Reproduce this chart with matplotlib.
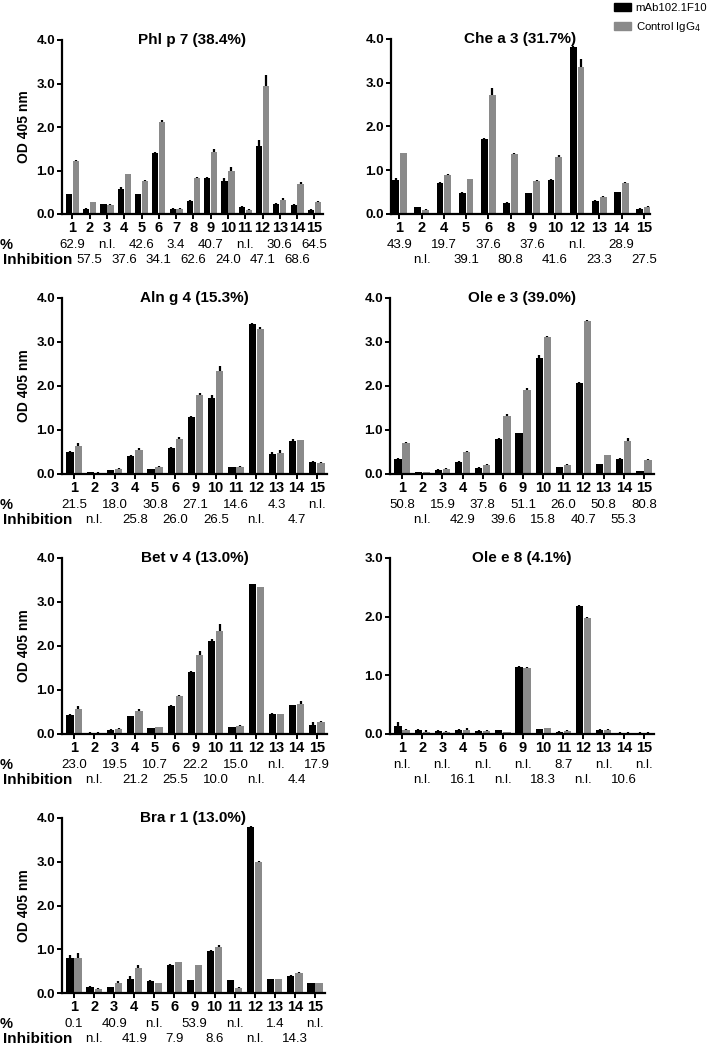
import matplotlib
matplotlib.use("Agg")
import matplotlib.pyplot as plt
from matplotlib.patches import Patch

plt.rcParams['font.family'] = ['Liberation Sans', 'DejaVu Sans']

# ---- data ----
phl_cats = ["1", "2", "3", "4", "5", "6", "7", "8", "9", "10", "11", "12", "13", "14", "15"]
phl_mab = [0.45, 0.12, 0.22, 0.57, 0.45, 1.40, 0.12, 0.31, 0.83, 0.75, 0.16, 1.57, 0.23, 0.21, 0.10]
phl_ctl = [1.22, 0.27, 0.21, 0.91, 0.77, 2.12, 0.11, 0.83, 1.42, 0.98, 0.09, 2.95, 0.32, 0.68, 0.27]
phl_mab_err = [0.02, 0.01, 0.01, 0.04, 0.02, 0.02, 0.01, 0.02, 0.01, 0.08, 0.02, 0.13, 0.02, 0.02, 0.01]
phl_ctl_err = [0.03, 0.01, 0.01, 0.02, 0.02, 0.03, 0.03, 0.02, 0.08, 0.10, 0.02, 0.25, 0.04, 0.05, 0.02]
phl_pct1 = ["62.9", "n.l.", "42.6", "3.4", "40.7", "n.l.", "30.6", "64.5"]
phl_pct2 = ["57.5", "37.6", "34.1", "62.6", "24.0", "47.1", "68.6"]

che_cats = ["1", "2", "4", "5", "6", "8", "9", "10", "12", "13", "14", "15"]
che_mab = [0.78, 0.15, 0.71, 0.48, 1.71, 0.26, 0.47, 0.77, 3.82, 0.29, 0.50, 0.12]
che_ctl = [1.39, 0.10, 0.88, 0.79, 2.73, 1.37, 0.76, 1.31, 3.35, 0.38, 0.70, 0.17]
che_mab_err = [0.05, 0.02, 0.02, 0.02, 0.02, 0.01, 0.01, 0.03, 0.02, 0.02, 0.01, 0.01]
che_ctl_err = [0.01, 0.01, 0.04, 0.02, 0.15, 0.02, 0.02, 0.03, 0.20, 0.04, 0.03, 0.02]
che_pct1 = ["43.9", "19.7", "37.6", "37.6", "n.l.", "28.9"]
che_pct2 = ["n.l.", "39.1", "80.8", "41.6", "23.3", "27.5"]

cats13 = ["1", "2", "3", "4", "5", "6", "9", "10", "11", "12", "13", "14", "15"]

aln_mab = [0.50, 0.04, 0.09, 0.41, 0.11, 0.58, 1.30, 1.73, 0.15, 3.41, 0.46, 0.74, 0.28]
aln_ctl = [0.63, 0.03, 0.11, 0.54, 0.16, 0.79, 1.79, 2.35, 0.17, 3.29, 0.48, 0.77, 0.26]
aln_mab_err = [0.02, 0.01, 0.01, 0.02, 0.01, 0.03, 0.02, 0.06, 0.01, 0.02, 0.03, 0.05, 0.02]
aln_ctl_err = [0.08, 0.01, 0.02, 0.05, 0.02, 0.04, 0.06, 0.10, 0.02, 0.06, 0.06, 0.01, 0.02]
aln_pct1 = ["21.5", "18.0", "30.8", "27.1", "14.6", "4.3", "n.l."]
aln_pct2 = ["n.l.", "25.8", "26.0", "26.5", "n.l.", "4.7"]

ole3_mab = [0.34, 0.04, 0.10, 0.28, 0.14, 0.80, 0.93, 2.63, 0.16, 2.06, 0.22, 0.35, 0.06]
ole3_ctl = [0.70, 0.04, 0.12, 0.49, 0.21, 1.32, 1.92, 3.12, 0.21, 3.48, 0.43, 0.76, 0.32]
ole3_mab_err = [0.02, 0.01, 0.01, 0.01, 0.01, 0.01, 0.01, 0.08, 0.01, 0.02, 0.01, 0.02, 0.01]
ole3_ctl_err = [0.03, 0.01, 0.02, 0.04, 0.02, 0.05, 0.03, 0.02, 0.02, 0.03, 0.01, 0.05, 0.03]
ole3_pct1 = ["50.8", "15.9", "37.8", "51.1", "26.0", "50.8", "80.8"]
ole3_pct2 = ["n.l.", "42.9", "39.6", "15.8", "40.7", "55.3"]

bet_mab = [0.44, 0.03, 0.10, 0.41, 0.13, 0.64, 1.41, 2.11, 0.15, 3.41, 0.46, 0.65, 0.21]
bet_ctl = [0.57, 0.03, 0.12, 0.52, 0.15, 0.86, 1.80, 2.35, 0.18, 3.33, 0.45, 0.69, 0.27]
bet_mab_err = [0.01, 0.01, 0.01, 0.01, 0.01, 0.01, 0.03, 0.06, 0.01, 0.01, 0.01, 0.02, 0.07]
bet_ctl_err = [0.06, 0.01, 0.02, 0.04, 0.02, 0.02, 0.08, 0.15, 0.02, 0.02, 0.01, 0.07, 0.03]
bet_pct1 = ["23.0", "19.5", "10.7", "22.2", "15.0", "n.l.", "17.9"]
bet_pct2 = ["n.l.", "21.2", "25.5", "10.0", "n.l.", "4.4"]

ole8_mab = [0.14, 0.07, 0.05, 0.06, 0.05, 0.06, 1.15, 0.08, 0.04, 2.18, 0.07, 0.02, 0.02]
ole8_ctl = [0.06, 0.04, 0.04, 0.06, 0.05, 0.03, 1.12, 0.10, 0.05, 1.97, 0.07, 0.02, 0.02]
ole8_mab_err = [0.06, 0.02, 0.01, 0.02, 0.01, 0.01, 0.01, 0.01, 0.01, 0.02, 0.01, 0.01, 0.01]
ole8_ctl_err = [0.02, 0.02, 0.01, 0.04, 0.01, 0.01, 0.02, 0.01, 0.01, 0.02, 0.02, 0.01, 0.01]
ole8_pct1 = ["n.l.", "n.l.", "n.l.", "n.l.", "8.7", "n.l.", "n.l."]
ole8_pct2 = ["n.l.", "16.1", "n.l.", "18.3", "n.l.", "10.6"]

bra_mab = [0.80, 0.14, 0.13, 0.33, 0.28, 0.65, 0.29, 0.97, 0.29, 3.80, 0.31, 0.40, 0.23]
bra_ctl = [0.80, 0.10, 0.23, 0.58, 0.22, 0.70, 0.63, 1.06, 0.12, 3.00, 0.31, 0.46, 0.22]
bra_mab_err = [0.07, 0.03, 0.01, 0.06, 0.01, 0.02, 0.01, 0.01, 0.01, 0.01, 0.01, 0.02, 0.01]
bra_ctl_err = [0.12, 0.02, 0.04, 0.07, 0.01, 0.02, 0.02, 0.03, 0.01, 0.02, 0.02, 0.02, 0.02]
bra_pct1 = ["0.1", "40.9", "n.l.", "53.9", "n.l.", "1.4", "n.l."]
bra_pct2 = ["n.l.", "41.9", "7.9", "8.6", "n.l.", "14.3"]

BLACK = "#000000"
GRAY = "#8a8a8a"

W, H = 709, 1046
fig = plt.figure(figsize=(W / 100, H / 100), dpi=100)


def panel(box, title, cats, mab, ctl, mab_err, ctl_err, pct1, pct2, ymax, left_col):
    l, t, r, b = box
    ax = fig.add_axes([l / W, 1 - b / H, (r - l) / W, (b - t) / H])
    n = len(cats)
    x = list(range(n))
    bw = 0.36 if n > 12 else 0.31
    off = bw / 2 + 0.02
    xm = [i - off for i in x]
    xc = [i + off for i in x]
    ax.bar(xm, mab, width=bw, color=BLACK, zorder=2)
    ax.bar(xc, ctl, width=bw, color=GRAY, zorder=2)
    ax.errorbar(xm, mab, yerr=[[0] * n, mab_err], fmt="none", ecolor=BLACK,
                elinewidth=1.6, capsize=0, zorder=3)
    ax.errorbar(xc, ctl, yerr=[[0] * n, ctl_err], fmt="none", ecolor=BLACK,
                elinewidth=1.6, capsize=0, zorder=3)
    pad = 0.6 if n > 12 else 0.38
    ax.set_xlim(-pad, n - 1 + pad - 0.1)
    ax.set_ylim(0, ymax)
    ax.set_yticks([v for v in range(int(ymax) + 1)])
    ax.set_yticklabels(["%.1f" % v for v in range(int(ymax) + 1)], fontweight="bold", fontsize=9.5)
    ax.set_xticks(x)
    ax.set_xticklabels(cats, fontweight="bold", fontsize=10.5)
    for s in ["top", "right"]:
        ax.spines[s].set_visible(False)
    for s in ["left", "bottom"]:
        ax.spines[s].set_linewidth(1.6)
    ax.tick_params(axis="both", direction="out", length=3.5, width=1.4, pad=1.5)
    ax.text(0.5, 1.0, title, transform=ax.transAxes, ha="center", va="center",
            fontsize=11, fontweight="bold")
    if left_col:
        ax.set_ylabel("OD 405 nm", fontsize=10, fontweight="bold", labelpad=4)
    # percent inhibition rows: odd positions on first row, even on second
    for k, lab in enumerate(pct1):
        ax.annotate(lab, xy=(x[2 * k], 0), xycoords=("data", "axes fraction"),
                    xytext=(0, -22.5), textcoords="offset points",
                    ha="center", va="center", fontsize=9.5)
    for k, lab in enumerate(pct2):
        ax.annotate(lab, xy=(x[2 * k + 1], 0), xycoords=("data", "axes fraction"),
                    xytext=(0, -33), textcoords="offset points",
                    ha="center", va="center", fontsize=9.5)
    if left_col:
        ax.annotate("%", xy=(0.0, 0), xycoords=("figure fraction", "axes fraction"),
                    xytext=(0, -22.5), textcoords="offset points",
                    ha="left", va="center", fontsize=10.5, fontweight="bold")
        ax.annotate("Inhibition", xy=(2.5 / W, 0), xycoords=("figure fraction", "axes fraction"),
                    xytext=(0, -33), textcoords="offset points",
                    ha="left", va="center", fontsize=11, fontweight="bold")
    return ax


panel((62, 40, 323, 214), "Phl p 7 (38.4%)", phl_cats, phl_mab, phl_ctl,
      phl_mab_err, phl_ctl_err, phl_pct1, phl_pct2, 4, True)
panel((391, 39, 650, 214), "Che a 3 (31.7%)", che_cats, che_mab, che_ctl,
      che_mab_err, che_ctl_err, che_pct1, che_pct2, 4, False)
panel((62, 298, 327, 474), "Aln g 4 (15.3%)", cats13, aln_mab, aln_ctl,
      aln_mab_err, aln_ctl_err, aln_pct1, aln_pct2, 4, True)
panel((390, 298, 654, 474), "Ole e 3 (39.0%)", cats13, ole3_mab, ole3_ctl,
      ole3_mab_err, ole3_ctl_err, ole3_pct1, ole3_pct2, 4, False)
panel((62, 558, 327, 734), "Bet v 4 (13.0%)", cats13, bet_mab, bet_ctl,
      bet_mab_err, bet_ctl_err, bet_pct1, bet_pct2, 4, True)
panel((390, 558, 654, 734), "Ole e 8 (4.1%)", cats13, ole8_mab, ole8_ctl,
      ole8_mab_err, ole8_ctl_err, ole8_pct1, ole8_pct2, 3, False)
panel((62, 818, 325, 993), "Bra r 1 (13.0%)", cats13, bra_mab, bra_ctl,
      bra_mab_err, bra_ctl_err, bra_pct1, bra_pct2, 4, True)

handles = [Patch(color=BLACK), Patch(color=GRAY)]
fig.legend(handles, ["mAb102.1F10", "Control IgG$_4$"], loc="upper left",
           bbox_to_anchor=(606 / W, 1 + 5 / H), frameon=False, fontsize=8.2,
           handlelength=1.5, handleheight=0.7, handletextpad=0.4, labelspacing=0.6,
           borderpad=0.2)

fig.savefig("out.png", dpi=100)
